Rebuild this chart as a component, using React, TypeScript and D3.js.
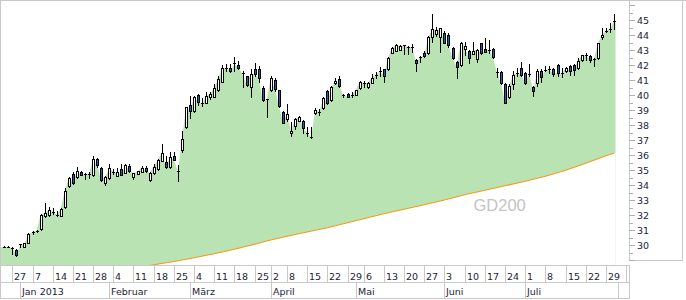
import { useEffect } from 'react';
import * as d3 from 'd3';

// trading-day index of the first candle (0 = 27 Dec 2012, holidays skipped)
const firstIndex = -2;

const opens = [
  29.85, 29.85, 29.8, 29.67, 30.02, 29.9, 30.15, 30.83, 30.95, 31.05,
  31.93, 32.02, 32.2, 32.0, 31.96, 32.55, 33.93, 34.73, 34.51, 34.85,
  34.72, 34.74, 34.64, 35.71, 35.16, 34.13, 34.44, 34.86, 34.6, 35.09,
  34.82, 35.27, 34.51, 34.73, 34.87, 35.13, 34.33, 34.78, 35.04, 35.62,
  35.53, 35.18, 35.96, 34.95, 36.33, 37.85, 39.31, 38.91, 40.0, 39.45,
  39.5, 39.9, 39.9, 40.35, 40.9, 41.78, 41.78, 42.1, 42.0, 41.45,
  41.27, 40.51, 41.73, 41.73, 40.44, 39.72, 40.33, 41.0, 40.33, 38.87,
  38.38, 37.44, 37.95, 38.29, 38.27, 37.5, 37.2, 38.78, 38.88, 39.11,
  40.27, 39.67, 40.78, 41.07, 39.98, 40.07, 40.0, 40.0, 40.44, 40.78,
  40.51, 40.82, 41.33, 41.56, 41.71, 41.71, 42.82, 42.96, 43.0, 43.3,
  43.2, 43.18, 42.33, 42.5, 42.82, 42.8, 43.89, 44.04, 43.89, 44.16,
  44.0, 43.11, 42.22, 42.0, 43.07, 42.93, 42.76, 42.38, 43.44, 43.04,
  43.0, 43.04, 41.5, 41.56, 40.73, 39.89, 40.73, 41.48, 41.78, 41.49,
  41.38, 40.56, 40.78, 41.62, 41.67, 41.69, 41.71, 42.0, 41.44, 41.6,
  41.93, 42.0, 41.78, 42.33, 42.66, 42.6, 42.36, 42.44, 43.84, 44.27,
  44.37, 44.94,
];

const highs = [
  29.95, 29.93, 29.85, 29.76, 30.07, 30.15, 30.78, 30.92, 31.02, 32.1,
  32.78, 32.56, 32.44, 32.24, 32.45, 33.78, 34.55, 34.85, 35.2, 34.95,
  34.8, 34.84, 35.96, 35.78, 35.2, 34.6, 35.4, 35.05, 35.1, 35.4,
  35.4, 35.4, 34.8, 34.95, 35.25, 35.25, 34.85, 35.4, 35.7, 36.73,
  35.95, 36.2, 36.2, 35.31, 37.6, 39.2, 39.93, 39.95, 40.05, 39.8,
  40.2, 40.2, 40.73, 41.3, 41.98, 42.05, 42.05, 42.55, 42.25, 41.6,
  41.3, 41.7, 42.13, 41.95, 40.6, 39.75, 41.25, 41.1, 40.35, 38.95,
  39.39, 38.18, 38.5, 38.6, 38.35, 37.87, 37.85, 39.1, 39.05, 39.85,
  40.35, 40.6, 41.1, 41.27, 40.05, 40.1, 40.2, 40.35, 40.95, 40.93,
  40.9, 41.4, 41.53, 41.85, 41.75, 42.55, 43.2, 43.38, 43.33, 43.35,
  43.25, 43.38, 42.4, 42.62, 42.95, 43.95, 45.4, 44.55, 44.5, 44.25,
  44.1, 43.2, 42.3, 43.55, 43.55, 43.0, 43.55, 43.05, 43.5, 43.8,
  43.66, 43.1, 41.78, 41.6, 40.8, 40.75, 41.62, 41.78, 42.2, 41.55,
  42.08, 40.6, 41.7, 41.7, 41.95, 41.91, 41.8, 42.05, 41.78, 41.85,
  42.0, 42.05, 42.45, 42.68, 42.78, 42.65, 42.5, 43.5, 44.5, 44.45,
  44.78, 45.38,
];

const lows = [
  29.84, 29.84, 29.42, 29.3, 29.88, 29.88, 30.12, 30.75, 30.9, 31.0,
  31.85, 31.95, 32.04, 31.95, 31.94, 32.5, 33.84, 34.1, 34.45, 34.65,
  34.38, 34.5, 34.6, 35.2, 34.3, 33.98, 34.4, 34.7, 34.58, 34.65,
  34.78, 34.9, 34.38, 34.7, 34.84, 34.88, 34.28, 34.74, 35.0, 35.58,
  35.15, 35.15, 35.64, 34.24, 36.2, 37.8, 38.45, 38.88, 39.35, 39.3,
  39.45, 39.7, 39.85, 40.3, 40.85, 41.6, 41.55, 41.6, 41.75, 40.56,
  40.6, 39.86, 41.3, 40.85, 39.6, 38.51, 40.3, 40.3, 39.2, 38.1,
  38.3, 37.24, 37.7, 38.25, 37.45, 37.27, 37.1, 38.7, 38.67, 39.05,
  39.4, 39.6, 40.75, 40.55, 39.9, 39.85, 39.85, 39.98, 40.4, 40.55,
  40.48, 40.8, 41.1, 41.25, 40.9, 41.65, 42.78, 42.92, 42.97, 42.7,
  42.75, 42.85, 41.6, 42.2, 42.55, 42.7, 43.55, 43.95, 42.89, 43.45,
  43.2, 42.4, 41.16, 41.95, 42.65, 42.1, 42.7, 42.2, 42.7, 42.85,
  42.8, 42.45, 41.22, 40.75, 39.45, 39.8, 40.4, 41.26, 41.25, 40.7,
  41.25, 39.95, 40.6, 40.85, 41.6, 41.47, 41.28, 41.3, 41.2, 41.55,
  41.35, 41.35, 41.72, 42.3, 42.33, 42.2, 41.95, 42.4, 43.7, 44.2,
  44.2, 44.4,
];

const closes = [
  29.86, 29.86, 29.78, 29.33, 30.05, 30.1, 30.73, 30.85, 30.96, 31.98,
  32.16, 32.31, 32.22, 32.02, 32.4, 33.62, 34.47, 34.16, 34.91, 34.69,
  34.7, 34.76, 35.71, 35.33, 34.33, 34.53, 35.11, 34.88, 34.84, 34.69,
  35.31, 34.96, 34.78, 34.91, 35.13, 34.91, 34.82, 35.22, 35.67, 36.11,
  35.22, 35.84, 35.67, 34.89, 37.04, 39.18, 38.96, 39.84, 39.55, 39.42,
  39.95, 40.08, 40.5, 41.06, 41.8, 41.76, 41.6, 42.07, 41.82, 41.42,
  40.67, 41.4, 41.4, 41.11, 39.67, 39.7, 41.11, 40.38, 39.27, 38.16,
  38.73, 37.6, 38.4, 38.51, 37.78, 37.49, 37.18, 39.0, 38.87, 39.78,
  39.49, 40.51, 40.96, 40.62, 39.96, 39.89, 40.02, 40.33, 40.89, 40.8,
  40.82, 41.16, 41.35, 41.58, 41.29, 42.49, 43.11, 43.33, 43.29, 43.31,
  43.22, 43.2, 42.16, 42.51, 42.62, 43.86, 44.38, 44.33, 44.44, 43.49,
  43.33, 42.44, 41.89, 43.44, 43.27, 42.44, 42.93, 43.0, 42.82, 42.89,
  43.02, 42.51, 41.49, 40.82, 39.49, 40.6, 41.33, 41.49, 41.33, 40.82,
  41.4, 40.29, 41.62, 41.18, 41.66, 41.71, 41.4, 41.49, 41.43, 41.78,
  41.62, 41.67, 42.27, 42.64, 42.67, 42.33, 42.38, 43.44, 44.02, 44.29,
  44.38, 44.96,
];

// GD200 (200-day moving average), read weekly
const gd200Index = [30, 35, 40, 45, 50, 55, 60, 64, 68, 73, 78, 83, 87, 92, 97, 102, 107, 112, 117, 122, 127, 132, 137, 142, 147, 149];
const gd200Values = [28.45, 28.68, 28.9, 29.15, 29.42, 29.72, 30.05, 30.33, 30.58, 30.87, 31.15, 31.48, 31.75, 32.08, 32.38, 32.68, 33.0, 33.35, 33.65, 33.95, 34.25, 34.58, 34.98, 35.45, 35.95, 36.12];

// first trading day of each week
const weekIndex = [0, 5, 10, 15, 20, 25, 30, 35, 40, 45, 50, 55, 60, 64, 68, 73, 78, 83, 87, 92, 97, 102, 107, 112, 117, 122, 127, 132, 137, 142, 147, 152];
const weekLabels = ['27', '7', '14', '21', '28', '4', '11', '18', '25', '4', '11', '18', '25', '2', '8', '15', '22', '29', '6', '13', '20', '27', '3', '10', '17', '24', '1', '8', '15', '22', '29', ''];

// first trading day of each month
const monthIndex = [2, 24, 44, 64, 85, 107, 127, 150];
const monthLabels = ['Jan 2013', 'Februar', 'März', 'April', 'Mai', 'Juni', 'Juli', ''];

const yTicks = d3.range(29, 46.01, 0.5);
const yLabels = d3.range(30, 46, 1);

const W = 686;
const H = 300;
const plotRight = 629;
const plotBottom = 265;
const rowMid = 283;
const rowEnd = 299;
const axisPanelBottom = 261;
const axisPanelRight = 682;

const gridColor = '#c8c8c8';
const textColor = '#1c1c3c';
const font = "'DejaVu Sans', Verdana, sans-serif";

export default function App() {
  useEffect(() => {
    document.body.style.margin = '0';
  }, []);

  const x = d3.scaleLinear().domain([-3.05, 152.7]).range([0, plotRight]);
  const y = d3.scaleLinear().domain([29, 46]).range([260, 5]);

  const candles = closes.map((c, k) => ({
    i: firstIndex + k,
    o: opens[k],
    h: highs[k],
    l: lows[k],
    c,
  }));
  const last = candles[candles.length - 1];

  const areaPts: [number, number][] = [
    [x.range()[0], closes[0]],
    ...candles.map((d) => [x(d.i), d.c] as [number, number]),
    [x(last.i) + 1.5, last.c],
  ];
  const greenArea = d3.area<[number, number]>()
    .x((d) => d[0])
    .y0(plotBottom)
    .y1((d) => y(d[1]))(areaPts);

  const gdPts: [number, number][] = gd200Index.map((i, k) => [x(i), gd200Values[k]]);
  gdPts.push([x(last.i) + 1.5, gd200Values[gd200Values.length - 1]]);
  const coverArea = d3.area<[number, number]>()
    .x((d) => d[0])
    .y0(plotBottom + 5)
    .y1((d) => y(d[1]))(gdPts);
  const gdLine = d3.line<[number, number]>()
    .x((d) => d[0])
    .y((d) => y(d[1]))(gdPts.slice(0, -1));

  return (
    <svg width={W} height={H} style={{ display: 'block', background: '#fff' }}>
      <defs>
        <clipPath id="plot">
          <rect x={0} y={0} width={plotRight} height={plotBottom} />
        </clipPath>
      </defs>

      <g clipPath="url(#plot)">
        <path d={greenArea || ''} fill="#b9e3b2" />
        <path d={coverArea || ''} fill="#ffffff" />
        <path d={gdLine || ''} fill="none" stroke="#f39a1e" strokeWidth={1.1} />
        <text x={x(114.2)} y={y(32.3)} fontFamily="'Liberation Sans', Arial, sans-serif" fontSize={16.5} fill="#c4c4c4">
          GD200
        </text>

        {candles.map((d) => {
          const cx = Math.round(x(d.i));
          const yo = y(d.o);
          const yc = y(d.c);
          const top = Math.round(Math.min(yo, yc));
          const bot = Math.round(Math.max(yo, yc));
          const up = d.c >= d.o;
          return (
            <g key={d.i}>
              <line x1={cx + 0.5} x2={cx + 0.5} y1={Math.round(y(d.h))} y2={Math.round(y(d.l)) + 1} stroke="#000" strokeWidth={1} />
              {bot - top < 2 ? (
                <line x1={cx - 1} x2={cx + 2} y1={top + 0.5} y2={top + 0.5} stroke="#000" strokeWidth={1} />
              ) : (
                <rect x={cx - 0.5} y={top + 0.5} width={2} height={bot - top} fill={up ? '#ffffff' : '#1565b0'} stroke="#000" strokeWidth={1} />
              )}
            </g>
          );
        })}
      </g>

      {/* frame */}
      <line x1={0} x2={W} y1={0.5} y2={0.5} stroke={gridColor} />
      <line x1={0.5} x2={0.5} y1={0} y2={rowEnd} stroke={gridColor} />

      {/* right value axis */}
      <line x1={plotRight + 0.5} x2={plotRight + 0.5} y1={0} y2={axisPanelBottom} stroke={gridColor} />
      <line x1={plotRight} x2={axisPanelRight + 0.5} y1={axisPanelBottom - 0.5} y2={axisPanelBottom - 0.5} stroke={gridColor} />
      <line x1={axisPanelRight + 0.5} x2={axisPanelRight + 0.5} y1={0} y2={axisPanelBottom} stroke={gridColor} />
      {yTicks.map((v) => (
        <line
          key={v}
          x1={plotRight}
          x2={plotRight + (Number.isInteger(v) ? 6 : 4)}
          y1={Math.round(y(v)) + 0.5}
          y2={Math.round(y(v)) + 0.5}
          stroke="#b0b0b0"
        />
      ))}
      {yLabels.map((v) => (
        <text key={v} x={plotRight + 8} y={Math.round(y(v)) + 3.5} fontFamily={font} fontSize={9.5} fill={textColor}>
          {v}
        </text>
      ))}

      {/* date axis */}
      <line x1={0} x2={plotRight + 0.5} y1={plotBottom + 0.5} y2={plotBottom + 0.5} stroke={gridColor} />
      <line x1={0} x2={plotRight + 0.5} y1={rowMid - 0.5} y2={rowMid - 0.5} stroke={gridColor} />
      <line x1={0} x2={plotRight + 0.5} y1={rowEnd - 0.5} y2={rowEnd - 0.5} stroke={gridColor} />
      <line x1={plotRight + 0.5} x2={plotRight + 0.5} y1={plotBottom} y2={rowEnd} stroke={gridColor} />
      {weekIndex.map((i, k) => {
        const px = Math.round(x(i)) + 0.5;
        return (
          <g key={'w' + i}>
            <line x1={px} x2={px} y1={plotBottom} y2={rowMid} stroke={gridColor} />
            <text x={px + 1.5} y={rowMid - 3.5} fontFamily={font} fontSize={9.5} fill={textColor}>
              {weekLabels[k]}
            </text>
          </g>
        );
      })}
      {monthIndex.map((i, k) => {
        const px = Math.round(x(i)) + 0.5;
        return (
          <g key={'m' + i}>
            <line x1={px} x2={px} y1={rowMid} y2={rowEnd} stroke={gridColor} />
            <text x={px + 1.5} y={rowEnd - 4} fontFamily={font} fontSize={9.5} fill={textColor}>
              {monthLabels[k]}
            </text>
          </g>
        );
      })}
    </svg>
  );
}
